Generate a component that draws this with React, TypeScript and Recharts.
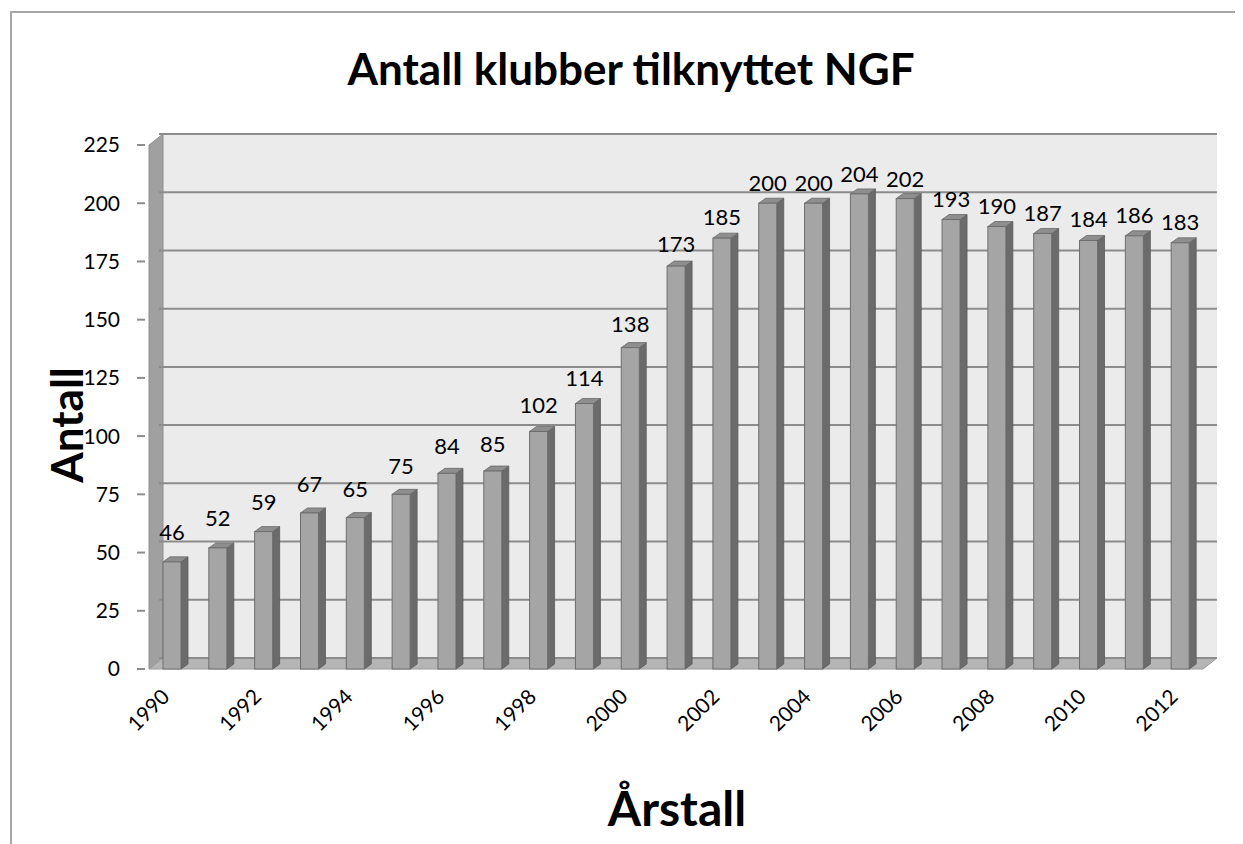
import { BarChart, Bar, XAxis, YAxis, LabelList, ReferenceArea, ReferenceLine } from 'recharts';

const years = [
  '1990', '1991', '1992', '1993', '1994', '1995', '1996', '1997', '1998', '1999', '2000', '2001',
  '2002', '2003', '2004', '2005', '2006', '2007', '2008', '2009', '2010', '2011', '2012',
];
const clubs = [46, 52, 59, 67, 65, 75, 84, 85, 102, 114, 138, 173, 185, 200, 200, 204, 202, 193, 190, 187, 184, 186, 183];
const yTicks = [0, 25, 50, 75, 100, 125, 150, 175, 200, 225];

const FONT = 'Lato, "Open Sans", sans-serif';
// depth of the 3D box (back wall offset)
const DX = 14;
const DY = 11;

const chartData = years.map((year, i) => ({ year, value: clubs[i] }));

// back wall, left wall and floor
const Box3D = (props: any) => {
  const { x, y, width, height } = props;
  const bottom = y + height;
  return (
    <g>
      <rect x={x + DX} y={y - DY} width={width} height={height} fill="#ebebeb" />
      <polygon
        points={`${x},${y} ${x + DX},${y - DY} ${x + DX},${bottom - DY} ${x},${bottom}`}
        fill="#a0a0a0"
        stroke="#8f8f8f"
      />
      <polygon
        points={`${x},${bottom} ${x + DX},${bottom - DY} ${x + width + DX},${bottom - DY} ${x + width},${bottom}`}
        fill="#b5b5b5"
        stroke="#9a9a9a"
      />
    </g>
  );
};

const WallLine = (props: any) => {
  const { x1, y1, x2 } = props;
  return <line x1={x1 + DX} y1={y1 - DY} x2={x2 + DX} y2={y1 - DY} stroke="#8c8c8c" strokeWidth={2} />;
};

const Bar3D = (props: any) => {
  const { x, y, width, height } = props;
  const dx = 7;
  const dy = 5;
  return (
    <g>
      <polygon
        points={`${x + width},${y} ${x + width + dx},${y - dy} ${x + width + dx},${y + height - dy} ${x + width},${y + height}`}
        fill="#6b6b6b"
        stroke="#5a5a5a"
        strokeWidth={0.8}
      />
      <polygon
        points={`${x},${y} ${x + dx},${y - dy} ${x + width + dx},${y - dy} ${x + width},${y}`}
        fill="#8e8e8e"
        stroke="#6a6a6a"
        strokeWidth={0.8}
      />
      <rect x={x} y={y} width={width} height={height} fill="#a5a5a5" stroke="#6e6e6e" strokeWidth={1} />
    </g>
  );
};

// Excel's perspective puts labels of short bars a little higher above the bar
const ValueLabel = (props: any) => {
  const { x, y, width, value } = props;
  const gap = 25 - 0.065 * Number(value);
  return (
    <text x={x + width / 2} y={y - gap} textAnchor="middle" fontSize={22} fill="#000" fontFamily={FONT}>
      {value}
    </text>
  );
};

const YearTick = (props: any) => {
  const { x, y, payload } = props;
  const px = x - 1;
  const py = y + 29;
  return (
    <text x={px} y={py} transform={`rotate(-45 ${px} ${py})`} textAnchor="end" fontSize={21} fill="#000" fontFamily={FONT}>
      {payload.value}
    </text>
  );
};

export default function App() {
  return (
    <div style={{ position: 'relative', width: 1235, height: 836, overflow: 'hidden', background: '#fff' }}>
      <div
        style={{
          position: 'absolute',
          left: 2,
          top: 3,
          width: 2000,
          height: 2000,
          borderLeft: '2px solid #a6a6a6',
          borderTop: '2px solid #a6a6a6',
        }}
      />
      <div style={{ position: 'absolute', left: 0, top: 0 }}>
        <BarChart
          width={1235}
          height={836}
          data={chartData}
          margin={{ top: 137, right: 40, bottom: 115, left: 67 }}
          barSize={18}
        >
          <ReferenceArea y1={0} y2={225} shape={Box3D} zIndex={50} />
          {yTicks.map((t) => (
            <ReferenceLine key={t} y={t} shape={WallLine} zIndex={60} />
          ))}
          <XAxis
            dataKey="year"
            interval={1}
            tickLine={false}
            axisLine={false}
            tickSize={0}
            tickMargin={0}
            height={60}
            padding={{ left: 4, right: 0 }}
            tick={YearTick}
          />
          <YAxis
            domain={[0, 225]}
            ticks={yTicks}
            width={70}
            axisLine={false}
            tickLine={{ stroke: '#8c8c8c', strokeWidth: 2 }}
            tickSize={8}
            tickMargin={17}
            tick={{ fontSize: 21, fill: '#000', fontFamily: FONT }}
          />
          <Bar dataKey="value" shape={Bar3D} isAnimationActive={false}>
            <LabelList dataKey="value" content={ValueLabel} />
          </Bar>
        </BarChart>
      </div>
      <svg width={1235} height={836} style={{ position: 'absolute', left: 0, top: 0, pointerEvents: 'none' }}>
        <text x={623} y={77} textAnchor="middle" fontSize={44} fontWeight={700} fontFamily={FONT} fill="#000">
          Antall klubber tilknyttet NGF
        </text>
        <text
          x={75}
          y={417}
          transform="rotate(-90 75 417)"
          textAnchor="middle"
          fontSize={44}
          fontWeight={700}
          fontFamily={FONT}
          fill="#000"
        >
          Antall
        </text>
        <text x={669} y={818} textAnchor="middle" fontSize={48} fontWeight={700} fontFamily={FONT} fill="#000">
          Årstall
        </text>
      </svg>
    </div>
  );
}
